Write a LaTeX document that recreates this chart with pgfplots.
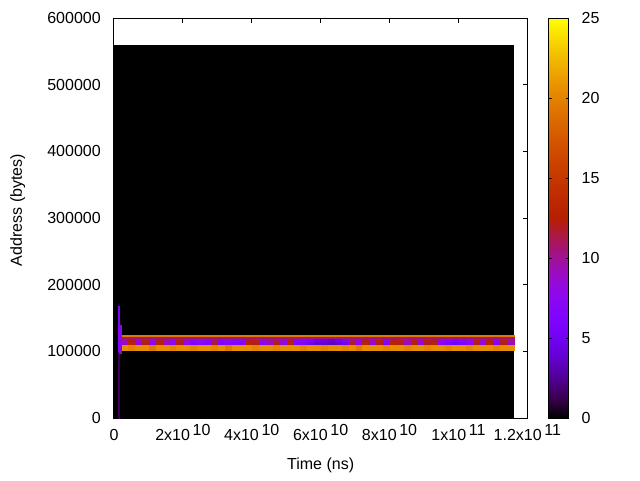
\documentclass[12pt,border=0pt]{standalone}
\usepackage{fontspec}
\setmainfont{Liberation Sans}
\usepackage{pgfplots}
\pgfplotsset{compat=1.18}
\usepackage{pgfplotstable}

% main band: grid corners (x, y, value of the cell to the upper right)
\pgfplotstableread{
x y c
2.2e9 102000 20.5
4.2e9 102000 20
6.2e9 102000 20.5
8.2e9 102000 20.5
10.2e9 102000 19.5
12.2e9 102000 20.5
14.2e9 102000 20.5
16.2e9 102000 20
18.2e9 102000 20.5
20.2e9 102000 20.5
22.2e9 102000 20
24.2e9 102000 20.5
26.2e9 102000 20.5
28.2e9 102000 20
30.2e9 102000 20.5
32.2e9 102000 19.5
34.2e9 102000 20.5
36.2e9 102000 20.5
38.2e9 102000 20.5
40.2e9 102000 20
42.2e9 102000 20.5
44.2e9 102000 20.5
46.2e9 102000 20
48.2e9 102000 20.5
50.2e9 102000 20.5
52.2e9 102000 20.5
54.2e9 102000 20
56.2e9 102000 20.5
58.2e9 102000 20.5
60.2e9 102000 20
62.2e9 102000 20.5
64.2e9 102000 20.5
66.2e9 102000 20
68.2e9 102000 20.5
70.2e9 102000 19.5
72.2e9 102000 20.5
74.2e9 102000 20.5
76.2e9 102000 20.5
78.2e9 102000 20
80.2e9 102000 20.5
82.2e9 102000 20.5
84.2e9 102000 20
86.2e9 102000 20.5
88.2e9 102000 20.5
90.2e9 102000 20
92.2e9 102000 20.5
94.2e9 102000 20.5
96.2e9 102000 20
98.2e9 102000 20.5
100.2e9 102000 20.5
102.2e9 102000 20
104.2e9 102000 20.5
106.2e9 102000 20.5
108.2e9 102000 20.5
110.2e9 102000 20
112.2e9 102000 20.5
114.2e9 102000 20.5
116.2e9 102000 20.5
2.2e9 110500 9
4.2e9 110500 13
6.2e9 110500 8
8.2e9 110500 12
10.2e9 110500 7
12.2e9 110500 13
14.2e9 110500 9
16.2e9 110500 7
18.2e9 110500 12
20.2e9 110500 8
22.2e9 110500 6
24.2e9 110500 7
26.2e9 110500 6
28.2e9 110500 12
30.2e9 110500 6
32.2e9 110500 7
34.2e9 110500 6
36.2e9 110500 6
38.2e9 110500 13
40.2e9 110500 12
42.2e9 110500 7
44.2e9 110500 9
46.2e9 110500 12
48.2e9 110500 8
50.2e9 110500 13
52.2e9 110500 6
54.2e9 110500 6
56.2e9 110500 5
58.2e9 110500 4
60.2e9 110500 4
62.2e9 110500 3.5
64.2e9 110500 4
66.2e9 110500 5
68.2e9 110500 12
70.2e9 110500 7
72.2e9 110500 13
74.2e9 110500 8
76.2e9 110500 12
78.2e9 110500 6
80.2e9 110500 13
82.2e9 110500 12
84.2e9 110500 9
86.2e9 110500 13
88.2e9 110500 8
90.2e9 110500 12
92.2e9 110500 13
94.2e9 110500 7
96.2e9 110500 6
98.2e9 110500 5
100.2e9 110500 6
102.2e9 110500 7
104.2e9 110500 12
106.2e9 110500 8
108.2e9 110500 13
110.2e9 110500 6
112.2e9 110500 12
114.2e9 110500 9
116.2e9 110500 9
2.2e9 115000 10
4.2e9 115000 12
6.2e9 115000 9
8.2e9 115000 13
10.2e9 115000 8
12.2e9 115000 12
14.2e9 115000 10
16.2e9 115000 8
18.2e9 115000 13
20.2e9 115000 9
22.2e9 115000 7
24.2e9 115000 8
26.2e9 115000 7
28.2e9 115000 11
30.2e9 115000 7
32.2e9 115000 8
34.2e9 115000 7
36.2e9 115000 7
38.2e9 115000 12
40.2e9 115000 13
42.2e9 115000 8
44.2e9 115000 10
46.2e9 115000 11
48.2e9 115000 9
50.2e9 115000 12
52.2e9 115000 7
54.2e9 115000 7
56.2e9 115000 6
58.2e9 115000 5
60.2e9 115000 4.5
62.2e9 115000 4
64.2e9 115000 5
66.2e9 115000 6
68.2e9 115000 11
70.2e9 115000 8
72.2e9 115000 12
74.2e9 115000 9
76.2e9 115000 13
78.2e9 115000 7
80.2e9 115000 12
82.2e9 115000 13
84.2e9 115000 10
86.2e9 115000 12
88.2e9 115000 9
90.2e9 115000 13
92.2e9 115000 12
94.2e9 115000 8
96.2e9 115000 7
98.2e9 115000 6
100.2e9 115000 7
102.2e9 115000 8
104.2e9 115000 13
106.2e9 115000 9
108.2e9 115000 12
110.2e9 115000 7
112.2e9 115000 13
114.2e9 115000 10
116.2e9 115000 10
2.2e9 120000 10.5
4.2e9 120000 10.5
6.2e9 120000 10.5
8.2e9 120000 10.5
10.2e9 120000 10.5
12.2e9 120000 10.5
14.2e9 120000 10.5
16.2e9 120000 10.5
18.2e9 120000 10.5
20.2e9 120000 10.5
22.2e9 120000 10.5
24.2e9 120000 10.5
26.2e9 120000 10.5
28.2e9 120000 10.5
30.2e9 120000 10.5
32.2e9 120000 10.5
34.2e9 120000 10.5
36.2e9 120000 10.5
38.2e9 120000 10.5
40.2e9 120000 10.5
42.2e9 120000 10.5
44.2e9 120000 10.5
46.2e9 120000 10.5
48.2e9 120000 10.5
50.2e9 120000 10.5
52.2e9 120000 10.5
54.2e9 120000 10.5
56.2e9 120000 10.5
58.2e9 120000 10.5
60.2e9 120000 10.5
62.2e9 120000 10.5
64.2e9 120000 10.5
66.2e9 120000 10.5
68.2e9 120000 10.5
70.2e9 120000 10.5
72.2e9 120000 10.5
74.2e9 120000 10.5
76.2e9 120000 10.5
78.2e9 120000 10.5
80.2e9 120000 10.5
82.2e9 120000 10.5
84.2e9 120000 10.5
86.2e9 120000 10.5
88.2e9 120000 10.5
90.2e9 120000 10.5
92.2e9 120000 10.5
94.2e9 120000 10.5
96.2e9 120000 10.5
98.2e9 120000 10.5
100.2e9 120000 10.5
102.2e9 120000 10.5
104.2e9 120000 10.5
106.2e9 120000 10.5
108.2e9 120000 10.5
110.2e9 120000 10.5
112.2e9 120000 10.5
114.2e9 120000 10.5
116.2e9 120000 10.5
}\bandtable

% top rows of the band: magenta row and thin orange line
\pgfplotstableread{
x y c
2.2e9 120000 10.5
116.2e9 120000 10.5
2.2e9 123000 19.5
116.2e9 123000 19.5
2.2e9 124500 19.5
116.2e9 124500 19.5
}\toptable

% narrow spike at the start
\pgfplotstableread{
x y c
1.3e9 0 1.5
1.6e9 0 1.5
1.3e9 100000 7
1.6e9 100000 7
1.3e9 140000 6
1.6e9 140000 6
1.3e9 168000 6
1.6e9 168000 6
}\spiketable

\pgfplotstableread{
x y c
1.6e9 97500 6.5
2.2e9 97500 6.5
1.6e9 139500 6.5
2.2e9 139500 6.5
}\spikebtable

\begin{document}
\begin{tikzpicture}
\useasboundingbox (-85.5pt,-46.5pt) rectangle (394.5pt,313.5pt);
\begin{axis}[
  at={(0pt,0pt)}, anchor=south west,
  scale only axis,
  width=310pt, height=300pt,
  xmin=0, xmax=1.2e11,
  ymin=0, ymax=600000,
  enlargelimits=false,
  scaled x ticks=false, scaled y ticks=false,
  tick align=inside,
  xtick pos=both, ytick pos=both,
  major tick length=3.5pt,
  axis line style={line width=0.75pt},
  every tick/.append style={line width=0.75pt, black},
  /pgf/number format/assume math mode=true,
  xtick={0,2e10,4e10,6e10,8e10,1e11,1.2e11},
  xticklabels={0,
    2x10\kern2pt\raisebox{4.25pt}{10},
    4x10\kern2pt\raisebox{4.25pt}{10},
    6x10\kern2pt\raisebox{4.25pt}{10},
    8x10\kern2pt\raisebox{4.25pt}{10},
    1x10\kern2pt\raisebox{4.25pt}{11},
    1.2x10\kern2pt\raisebox{4.25pt}{11}},
  ytick={0,100000,200000,300000,400000,500000,600000},
  yticklabels={0,100000,200000,300000,400000,500000,600000},
  xticklabel style={anchor=base, inner sep=0pt, yshift=-17pt},
  yticklabel style={anchor=east, inner sep=0pt, xshift=-9.75pt},
  xlabel={Time (ns)},
  ylabel={Address (bytes)},
  every axis x label/.style={at={(axis description cs:0.5,-0.118)}, anchor=center},
  every axis y label/.style={at={(axis description cs:-0.2329,0.52)}, rotate=90, anchor=center},
  point meta min=0, point meta max=25,
  colormap={gpdefault}{
    rgb=(0,0,0) rgb=(0.224,0.000125,0.309) rgb=(0.316,0.001,0.588)
    rgb=(0.387,0.0034,0.809) rgb=(0.447,0.008,0.951) rgb=(0.5,0.0156,1)
    rgb=(0.548,0.027,0.951) rgb=(0.592,0.0429,0.809) rgb=(0.632,0.064,0.588)
    rgb=(0.671,0.0911,0.309) rgb=(0.707,0.125,0) rgb=(0.742,0.166,0)
    rgb=(0.775,0.216,0) rgb=(0.806,0.275,0) rgb=(0.837,0.343,0)
    rgb=(0.866,0.422,0) rgb=(0.894,0.512,0) rgb=(0.922,0.614,0)
    rgb=(0.949,0.729,0) rgb=(0.975,0.857,0) rgb=(1,1,0)},
  colorbar,
  colorbar style={
    at={(parent axis.north east)}, anchor=north west, xshift=7.5pt,
    width=15pt,
    ytick={0,5,10,15,20,25},
    ytick pos=both, yticklabel pos=right,
    tick align=inside,
    major tick length=2.25pt,
    axis line style={line width=0.75pt},
    every tick/.append style={line width=0.75pt, black},
    yticklabel style={anchor=west, inner sep=0pt, xshift=9.5pt},
    /pgf/number format/assume math mode=true,
  },
]
% black background of the data area
\addplot[draw=none, fill=black, forget plot] coordinates {(0,560000) (1.162e11,560000)} \closedcycle;
% band
\addplot[surf, shader=flat corner, mesh/cols=58, point meta=explicit, forget plot]
  table[x=x, y=y, meta=c] {\bandtable};
\addplot[surf, shader=flat corner, mesh/cols=2, point meta=explicit, forget plot]
  table[x=x, y=y, meta=c] {\toptable};
% spike
\addplot[surf, shader=flat corner, mesh/cols=2, point meta=explicit, forget plot]
  table[x=x, y=y, meta=c] {\spiketable};
\addplot[surf, shader=flat corner, mesh/cols=2, point meta=explicit, forget plot]
  table[x=x, y=y, meta=c] {\spikebtable};
\end{axis}
\end{tikzpicture}
\end{document}
